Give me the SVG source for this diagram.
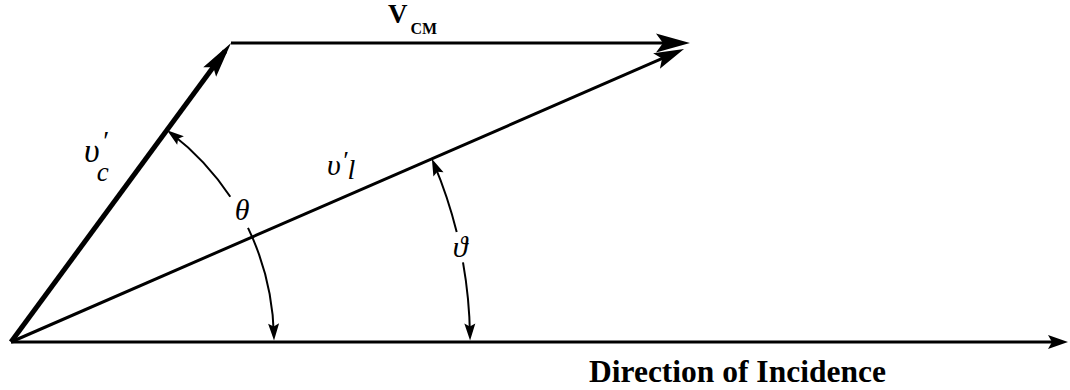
<svg xmlns="http://www.w3.org/2000/svg" width="1070" height="390" viewBox="0 0 1070 390">
  <style>
    .ln { stroke: #000; fill: none; stroke-linecap: butt; }
    .head { fill: #000; stroke: none; }
    .lbl { font-family: "Liberation Serif", "DejaVu Serif", serif; fill: #000; }
    .bold { font-weight: bold; }
    .it { font-style: italic; }
  </style>
  <defs>
    <marker id="mC" markerUnits="userSpaceOnUse" viewBox="-30 -10 45 20" refX="0" refY="0" markerWidth="45" markerHeight="20" orient="auto" overflow="visible">
      <path class="head" d="M10,0 L-26,-8 L-20,0 L-26,8 Z"/>
    </marker>
    <marker id="mV" markerUnits="userSpaceOnUse" viewBox="-30 -10 45 20" refX="0" refY="0" markerWidth="45" markerHeight="20" orient="auto" overflow="visible">
      <path class="head" d="M8,0 L-26,-9.5 L-19,0 L-26,9.5 Z"/>
    </marker>
    <marker id="mL" markerUnits="userSpaceOnUse" viewBox="-30 -10 45 20" refX="0" refY="0" markerWidth="45" markerHeight="20" orient="auto" overflow="visible">
      <path class="head" d="M8,0 L-22,-8.5 L-16,0 L-22,8.5 Z"/>
    </marker>
    <marker id="mB" markerUnits="userSpaceOnUse" viewBox="-20 -10 30 20" refX="0" refY="0" markerWidth="30" markerHeight="20" orient="auto" overflow="visible">
      <path class="head" d="M6,0 L-14,-7 L-10,0 L-14,7 Z"/>
    </marker>
    <marker id="mA" markerUnits="userSpaceOnUse" viewBox="-15 -8 22 16" refX="0" refY="0" markerWidth="22" markerHeight="16" orient="auto" overflow="visible">
      <path class="head" d="M5,0 L-12,-5.5 L-9,0 L-12,5.5 Z"/>
    </marker>
  </defs>

  <g id="connectors">
    <!-- direction of incidence baseline -->
    <line id="baseline" class="ln" x1="11" y1="342" x2="1062" y2="342" stroke-width="3" marker-end="url(#mB)"/>
    <!-- v'c -->
    <line id="vc" class="ln" x1="11" y1="342" x2="225.1" y2="51.1" stroke-width="5" marker-end="url(#mC)"/>
    <!-- V_CM -->
    <line id="vcm" class="ln" x1="231" y1="43" x2="682" y2="43" stroke-width="3" marker-end="url(#mV)"/>
    <!-- v'l -->
    <line id="vl" class="ln" x1="11" y1="342" x2="676.7" y2="52.2" stroke-width="3" marker-end="url(#mL)"/>
    <!-- theta arc -->
    <path id="theta-arc-up" class="ln" d="M230.3,196.8 A263,263 0 0 0 171.0,133.2" stroke-width="2" marker-end="url(#mA)"/>
    <path id="theta-arc-down" class="ln" d="M248.0,227.9 A263,263 0 0 1 273.9,335.5" stroke-width="2" marker-end="url(#mA)"/>
    <!-- vartheta arc -->
    <path id="vartheta-arc-up" class="ln" d="M456.7,232.1 A459,459 0 0 0 433.8,163.4" stroke-width="2" marker-end="url(#mA)"/>
    <path id="vartheta-arc-down" class="ln" d="M463.0,262.3 A459,459 0 0 1 470.0,335.5" stroke-width="2" marker-end="url(#mA)"/>
  </g>

  <g id="label-vcm">
    <text class="lbl bold" x="388" y="23" font-size="27">V<tspan font-size="16" dx="3" dy="11">CM</tspan></text>
  </g>
  <g id="label-vc">
    <text class="lbl it" x="84" y="162" font-size="34">υ<tspan font-size="28" dx="2" dy="-12">′</tspan><tspan font-size="27" dx="-11" dy="31">c</tspan></text>
  </g>
  <g id="label-vl">
    <text class="lbl it" x="327" y="175" font-size="30">υ<tspan font-size="26" dx="1" dy="-6">′</tspan><tspan font-size="28" dx="0" dy="10">l</tspan></text>
  </g>
  <g id="label-theta">
    <text class="lbl it" x="242" y="220" font-size="30" text-anchor="middle">θ</text>
  </g>
  <g id="label-vartheta">
    <text class="lbl it" x="460" y="257" font-size="30" text-anchor="middle">ϑ</text>
  </g>
  <g id="label-direction">
    <text class="lbl bold" x="589" y="382" font-size="31.5">Direction of Incidence</text>
  </g>
</svg>
